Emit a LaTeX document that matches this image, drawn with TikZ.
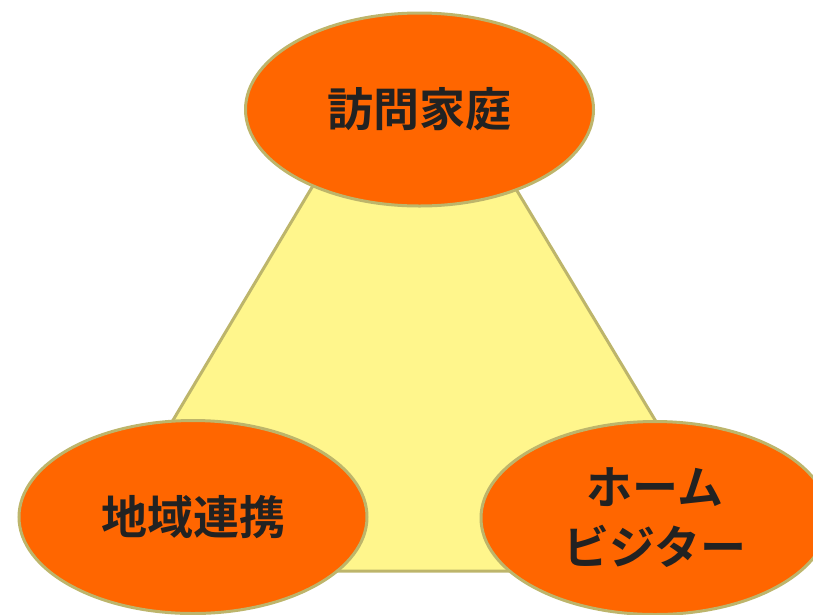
\documentclass[tikz,border=0pt]{standalone}
\usepackage{fontspec}
\newfontfamily\jp{Noto Sans CJK JP}[BoldFont={Noto Sans CJK JP Bold}]
\usetikzlibrary{shapes.geometric}
\definecolor{ovfill}{HTML}{FF6600}
\definecolor{trifill}{HTML}{FFF68C}
\definecolor{edge}{HTML}{BDB56B}
\definecolor{txt}{HTML}{222222}
\tikzset{
  oval/.style={ellipse, draw=edge, line width=3pt, fill=ovfill, minimum width=348pt, minimum height=193pt, inner sep=0pt,
    font=\jp\bfseries\fontsize{46pt}{60pt}\selectfont, text=txt, align=center},
  tri/.style={draw=edge, line width=3pt, fill=trifill, line join=round}
}
\begin{document}
\begin{tikzpicture}[x=1pt,y=-1pt]
\useasboundingbox (0,0) rectangle (813,614);
\clip (0,0) rectangle (813,614);
\coordinate (t) at (413,18);
\coordinate (l) at (83,571);
\coordinate (r) at (746,571);
\draw[tri] (t) -- (l) -- (r) -- cycle;
\node[oval] (top) at (419.5,109.5) {訪問家庭};
\node[oval] (left) at (193,517) {地域連携};
\node[oval] (right) at (655,518) {ホーム\\ビジター};
\end{tikzpicture}
\end{document}
